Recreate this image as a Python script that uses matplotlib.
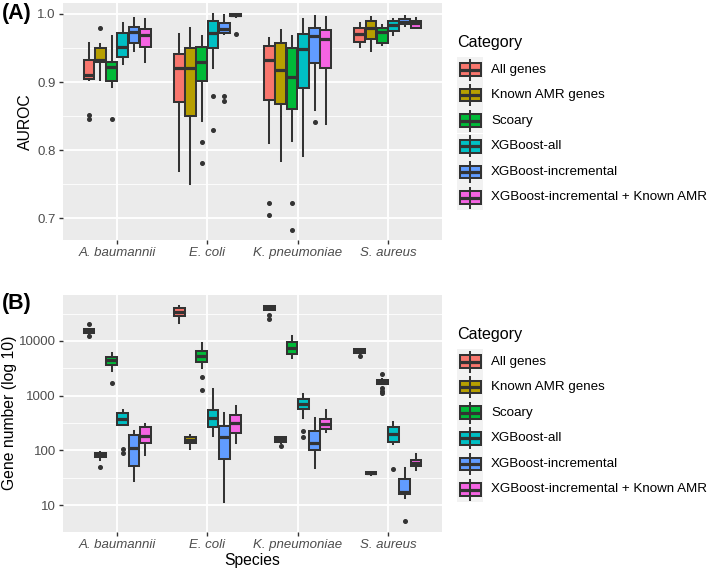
import matplotlib
matplotlib.use("Agg")
import matplotlib.pyplot as plt
from matplotlib.patches import Rectangle
from matplotlib.ticker import FixedLocator, NullFormatter

plt.rcParams['font.family'] = ['Liberation Sans', 'DejaVu Sans']

species = ["A. baumannii", "E. coli", "K. pneumoniae", "S. aureus"]
categories = ["All genes", "Known AMR genes", "Scoary", "XGBoost-all",
              "XGBoost-incremental", "XGBoost-incremental + Known AMR"]
colors = ["#F8766D", "#B79F00", "#00BA38", "#00BFC4", "#619CFF", "#F564E3"]

# panel A: AUROC box stats, rows = species, cols = category
auroc_lo = [[0.903, 0.903, 0.892, 0.926, 0.945, 0.929],
            [0.770, 0.750, 0.843, 0.920, 0.970, 0.995],
            [0.810, 0.784, 0.814, 0.791, 0.859, 0.839],
            [0.952, 0.945, 0.954, 0.969, 0.982, 0.979]]
auroc_q1 = [[0.904, 0.930, 0.901, 0.936, 0.957, 0.951],
            [0.870, 0.850, 0.902, 0.950, 0.972, 0.997],
            [0.874, 0.867, 0.860, 0.891, 0.928, 0.920],
            [0.959, 0.963, 0.958, 0.975, 0.985, 0.980]]
auroc_med = [[0.910, 0.933, 0.922, 0.952, 0.974, 0.969],
             [0.921, 0.921, 0.930, 0.972, 0.978, 0.999],
             [0.932, 0.917, 0.908, 0.949, 0.967, 0.963],
             [0.970, 0.979, 0.973, 0.983, 0.988, 0.986]]
auroc_q3 = [[0.932, 0.950, 0.930, 0.972, 0.981, 0.978],
            [0.941, 0.950, 0.952, 0.990, 0.986, 1.000],
            [0.953, 0.957, 0.950, 0.970, 0.980, 0.977],
            [0.980, 0.989, 0.979, 0.990, 0.992, 0.990]]
auroc_hi = [[0.958, 0.956, 0.968, 0.986, 0.994, 0.993],
            [0.971, 0.979, 0.967, 1.000, 0.998, 1.000],
            [0.965, 0.976, 0.967, 0.993, 0.997, 0.995],
            [0.986, 0.995, 0.984, 0.992, 0.997, 0.994]]
auroc_out = [[[0.846, 0.851], [0.979], [0.845], [], [], []],
             [[], [], [0.812, 0.781], [0.880, 0.830], [0.880, 0.872], [0.970]],
             [[0.722, 0.704], [], [0.723, 0.683], [], [0.842], []],
             [[], [], [], [], [], []]]

# panel B: gene numbers
genes_lo = [[13500, 66.5, 2870, 285, 27.9, 82],
            [21600, 106, 3160, 183, 11.2, 138],
            [36500, 138, 4820, 396, 48.2, 213],
            [5780, 36, 1600, 131, 13.3, 43.9]]
genes_q1 = [[13800, 74.5, 3690, 290, 52.5, 134],
            [28700, 134, 4070, 264, 69.3, 210],
            [36900, 144, 5700, 570, 101, 245],
            [6110, 36.6, 1640, 144, 15.7, 51.9]]
genes_med = [[15000, 82, 4490, 369, 112, 183],
             [34000, 155, 5320, 384, 178, 312],
             [40200, 159, 7350, 705, 134, 303],
             [6650, 38.6, 1800, 200, 17.5, 58]]
genes_q3 = [[16350, 90.6, 5020, 475, 190, 271],
            [39600, 178, 6560, 547, 283, 443],
            [43600, 173, 9460, 857, 229, 374],
            [7140, 40.8, 1940, 271, 29.6, 66.8]]
genes_hi = [[16500, 92, 5940, 547, 226, 303],
            [43600, 190, 9330, 1310, 489, 656],
            [44000, 175, 12500, 1060, 396, 547],
            [7200, 41, 2050, 326, 47.1, 86]]
genes_out = [[[20200, 12300], [48.9], [1730], [106, 88], [], []],
             [[], [], [2190, 1250], [], [], []],
             [[29900, 25200], [120], [], [226, 178], [], []],
             [[5400], [], [2460, 1365, 1220, 1107], [45.7], [5.1], []]]

W, H = 708, 571
fig = plt.figure(figsize=(W / 100, H / 100), dpi=100)


def px(x, y):
    return x / W, 1 - y / H


edge = "#333333"


def draw_panel(ax, lo, q1, med, q3, hi, out):
    stats, pos, cols = [], [], []
    for s in range(len(species)):
        for c in range(len(categories)):
            stats.append(dict(whislo=lo[s][c], q1=q1[s][c], med=med[s][c],
                              q3=q3[s][c], whishi=hi[s][c], fliers=out[s][c]))
            pos.append(s + 1 + (c - 2.5) * 0.125)
            cols.append(colors[c])
    res = ax.bxp(stats, positions=pos, widths=0.12, patch_artist=True,
                 showcaps=False, manage_ticks=False,
                 boxprops=dict(edgecolor=edge, linewidth=1.45),
                 whiskerprops=dict(color=edge, linewidth=1.45),
                 medianprops=dict(color=edge, linewidth=2.3),
                 flierprops=dict(marker='o', markerfacecolor=edge,
                                 markeredgecolor=edge, markersize=2.6,
                                 linestyle='none'))
    for b, col in zip(res['boxes'], cols):
        b.set_facecolor(col)
    ax.set_facecolor("#EBEBEB")
    for sp in ax.spines.values():
        sp.set_visible(False)
    ax.set_xlim(0.4, 4.6)
    ax.set_xticks(range(1, 5))
    ax.set_xticklabels(species, fontstyle='italic')
    ax.grid(True, which='major', color='white', linewidth=1.3)
    ax.grid(True, which='minor', axis='y', color='white', linewidth=0.6)
    ax.set_axisbelow(True)
    ax.tick_params(which='major', length=2.9, width=1.0, color=edge,
                   labelsize=9.5, labelcolor='#4D4D4D', pad=2.2)
    ax.tick_params(which='minor', length=0)


# panel A
axA = fig.add_axes([63 / W, 1 - 240 / H, 379 / W, 237 / H])
draw_panel(axA, auroc_lo, auroc_q1, auroc_med, auroc_q3, auroc_hi, auroc_out)
axA.set_ylim(0.668, 1.016)
axA.set_yticks([0.7, 0.8, 0.9, 1.0])
axA.set_yticklabels(["0.7", "0.8", "0.9", "1.0"])
axA.yaxis.set_minor_locator(FixedLocator([0.75, 0.85, 0.95]))

# panel B
axB = fig.add_axes([63 / W, 1 - 531.7 / H, 379 / W, 236.7 / H])
draw_panel(axB, genes_lo, genes_q1, genes_med, genes_q3, genes_hi, genes_out)
axB.set_yscale('log')
axB.set_ylim(3.27, 69000)
axB.set_yticks([10, 100, 1000, 10000])
axB.set_yticklabels(["10", "100", "1000", "10000"])
axB.yaxis.set_minor_locator(FixedLocator([10 ** 1.5, 10 ** 2.5, 10 ** 3.5, 10 ** 4.5]))
axB.yaxis.set_minor_formatter(NullFormatter())
axB.tick_params(which='minor', length=0)

# titles and labels
fig.text(*px(2, 14), "(A)", fontsize=15.5, fontweight='bold', ha='left', va='center')
fig.text(*px(2, 303), "(B)", fontsize=15.5, fontweight='bold', ha='left', va='center')
fig.text(*px(25, 121.5), "AUROC", fontsize=11.3, rotation=90, ha='center', va='center')
fig.text(*px(10, 413), "Gene number (log 10)", fontsize=11.3, rotation=90,
         ha='center', va='center')
fig.text(*px(252.5, 560), "Species", fontsize=11.3, ha='center', va='center')

# legends drawn by hand, ggplot style
lg = fig.add_axes([0, 0, 1, 1], zorder=-1)
lg.set_xlim(0, W)
lg.set_ylim(H, 0)
lg.axis('off')
for off in (0, 292):
    lg.text(457, 42 + off, "Category", fontsize=11.6, ha='left', va='center')
    for i, (cat, col) in enumerate(zip(categories, colors)):
        yc = 69.5 + i * 25.6 + off
        lg.add_patch(Rectangle((457, yc - 12.8), 26, 25.6, facecolor="#F2F2F2",
                               edgecolor='none'))
        lg.plot([470, 470], [yc - 11, yc + 11], color=edge, lw=1.45,
                solid_capstyle='butt')
        lg.add_patch(Rectangle((459.5, yc - 6.3), 21, 12.6, facecolor=col,
                               edgecolor=edge, linewidth=1.45))
        lg.plot([459.5, 480.5], [yc, yc], color=edge, lw=2.3,
                solid_capstyle='butt')
        lg.text(491, yc, cat, fontsize=9.6, ha='left', va='center')

fig.savefig("out.png", dpi=100)
